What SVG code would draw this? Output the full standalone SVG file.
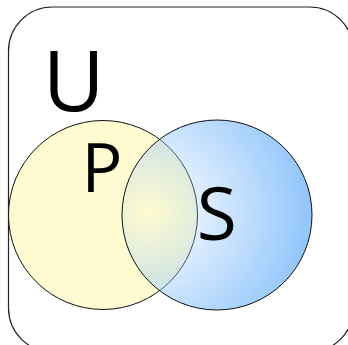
<svg xmlns="http://www.w3.org/2000/svg" width="348" height="345" viewBox="0 0 348 345">
  <style>
    .frame { fill: #fff; stroke: #222; stroke-width: 1.2; }
    .circ { stroke: #111; stroke-width: 1; }
    .lbl { font-family: "Open Sans", "DejaVu Sans", sans-serif; fill: #000; text-anchor: middle; }
  </style>
  <defs>
    <radialGradient id="blueGrad" gradientUnits="userSpaceOnUse" cx="148" cy="212" r="165">
      <stop offset="0" stop-color="#9ccbfc" stop-opacity="0"/>
      <stop offset="1" stop-color="#8fc4fb" stop-opacity="1"/>
    </radialGradient>
  </defs>
  <rect id="frame" class="frame" x="8.5" y="7" width="345" height="345" rx="44" ry="44"/>
  <g id="P-set">
    <circle class="circ" cx="103" cy="215" r="94.5" fill="#fffbd0"/>
  </g>
  <g id="S-set">
    <circle class="circ" cx="217" cy="215" r="95" fill="url(#blueGrad)"/>
  </g>
  <g id="labels">
    <text id="U" class="lbl" x="73.7" y="111" font-size="85">U</text>
    <text id="P" class="lbl" x="102" y="191.7" font-size="68">P</text>
    <text id="S" class="lbl" x="216.7" y="240" font-size="73">S</text>
  </g>
</svg>
